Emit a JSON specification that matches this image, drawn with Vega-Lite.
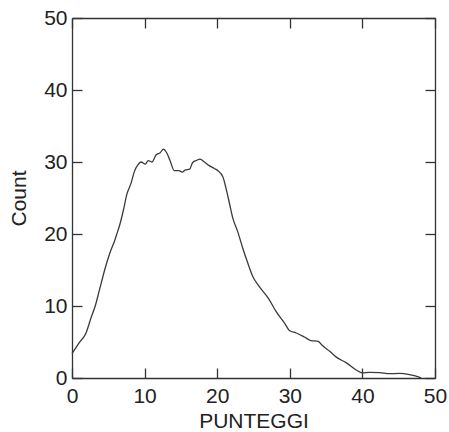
{
  "$schema": "https://vega.github.io/schema/vega-lite/v6.json",
  "width": 363,
  "height": 360,
  "autosize": {"type": "none"},
  "padding": {"left": 72, "top": 18, "right": 14, "bottom": 54},
  "background": "white",
  "config": {
    "view": {"stroke": null},
    "font": "Liberation Sans",
    "axis": {
      "grid": false,
      "domainColor": "#333333",
      "tickColor": "#333333",
      "domainWidth": 1.3,
      "tickWidth": 1.3,
      "labelColor": "#222222",
      "titleColor": "#222222",
      "labelFont": "Liberation Sans",
      "titleFont": "Liberation Sans",
      "labelFontSize": 21,
      "titleFontSize": 21,
      "titleFontWeight": "normal"
    }
  },
  "data": {
    "values": [
      {"x": 0, "y": 3.4}, {"x": 1.0, "y": 4.9}, {"x": 1.95, "y": 6.3}, {"x": 2.6, "y": 8.3},
      {"x": 3.2, "y": 10.0}, {"x": 3.8, "y": 12.3}, {"x": 4.5, "y": 15.0}, {"x": 5.3, "y": 17.6},
      {"x": 5.85, "y": 19.0}, {"x": 6.3, "y": 20.4}, {"x": 6.5, "y": 21.0}, {"x": 7.1, "y": 23.4},
      {"x": 7.55, "y": 25.5}, {"x": 8.15, "y": 27.1}, {"x": 8.6, "y": 28.7}, {"x": 9.07, "y": 29.6},
      {"x": 9.5, "y": 30.0}, {"x": 10.1, "y": 29.7}, {"x": 10.5, "y": 30.2}, {"x": 11.0, "y": 30.0},
      {"x": 11.6, "y": 31.0}, {"x": 12.15, "y": 31.3}, {"x": 12.6, "y": 31.8}, {"x": 13.06, "y": 31.25},
      {"x": 13.5, "y": 30.2}, {"x": 14.1, "y": 28.8}, {"x": 14.7, "y": 28.8}, {"x": 15.2, "y": 28.6},
      {"x": 15.6, "y": 28.9}, {"x": 16.2, "y": 29.0}, {"x": 16.6, "y": 29.9}, {"x": 17.1, "y": 30.2},
      {"x": 17.65, "y": 30.4}, {"x": 18.25, "y": 30.0}, {"x": 18.9, "y": 29.5}, {"x": 19.6, "y": 29.1},
      {"x": 20.1, "y": 28.8}, {"x": 20.8, "y": 27.9}, {"x": 21.2, "y": 26.4}, {"x": 21.7, "y": 24.2},
      {"x": 22.15, "y": 22.2}, {"x": 22.8, "y": 20.4}, {"x": 23.5, "y": 18.1}, {"x": 24.2, "y": 16.0},
      {"x": 24.9, "y": 14.1}, {"x": 25.8, "y": 12.7}, {"x": 27.1, "y": 11.0}, {"x": 28.1, "y": 9.25},
      {"x": 29.3, "y": 7.6}, {"x": 29.95, "y": 6.6}, {"x": 30.9, "y": 6.25}, {"x": 32.0, "y": 5.7},
      {"x": 32.9, "y": 5.2}, {"x": 33.9, "y": 5.1}, {"x": 34.5, "y": 4.5}, {"x": 35.5, "y": 3.7},
      {"x": 36.4, "y": 2.9}, {"x": 37.8, "y": 2.1}, {"x": 39.1, "y": 1.15}, {"x": 40.0, "y": 0.7},
      {"x": 41.0, "y": 0.78}, {"x": 42.4, "y": 0.74}, {"x": 43.7, "y": 0.6}, {"x": 45.1, "y": 0.64},
      {"x": 46.5, "y": 0.46}, {"x": 47.9, "y": 0.08}, {"x": 48.1, "y": 0.0}
    ]
  },
  "layer": [
    {
      "mark": {"type": "line", "color": "#3a3a3a", "strokeWidth": 1.3, "interpolate": "monotone"},
      "encoding": {
        "x": {
          "field": "x", "type": "quantitative",
          "scale": {"domain": [0, 50], "nice": false, "zero": false},
          "axis": {"title": "PUNTEGGI", "values": [0, 10, 20, 30, 40, 50], "tickSize": -10, "labelPadding": 17, "titlePadding": 4, "labelFlush": false}
        },
        "y": {
          "field": "y", "type": "quantitative",
          "scale": {"domain": [0, 50], "nice": false, "zero": false},
          "axis": {"title": "Count", "values": [0, 10, 20, 30, 40, 50], "tickSize": -10, "labelPadding": 15, "titlePadding": 14, "labelFlush": false}
        }
      }
    },
    {
      "mark": {"type": "line", "opacity": 0},
      "encoding": {
        "x": {
          "field": "x", "type": "quantitative",
          "axis": {"orient": "top", "title": null, "labels": false, "values": [0, 10, 20, 30, 40, 50], "tickSize": -10}
        },
        "y": {
          "field": "y", "type": "quantitative",
          "axis": {"orient": "right", "title": null, "labels": false, "values": [0, 10, 20, 30, 40, 50], "tickSize": -10}
        }
      }
    }
  ],
  "resolve": {"axis": {"x": "independent", "y": "independent"}}
}
